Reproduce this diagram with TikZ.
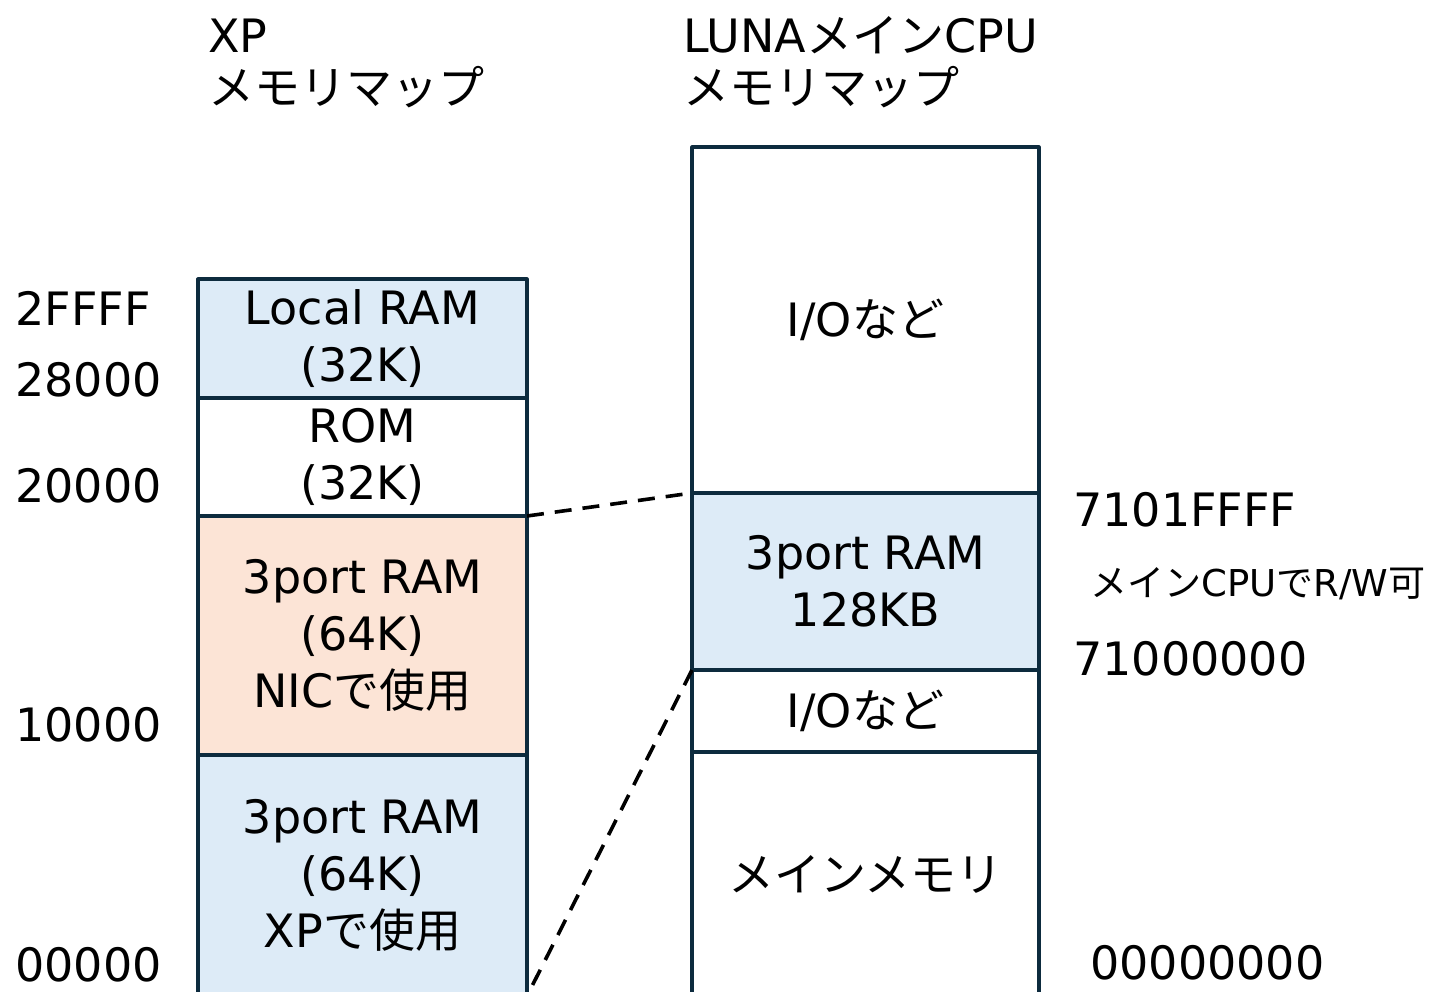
\documentclass[tikz,border=0pt]{standalone}
\usepackage{fontspec}
\setmainfont{DejaVu Sans}
\newfontfamily\jp{Noto Sans CJK JP}
\definecolor{memblue}{HTML}{DDEBF7}
\definecolor{mempeach}{HTML}{FCE4D6}
\definecolor{memline}{HTML}{0D2B3E}
\begin{document}
\begin{tikzpicture}[x=0.5pt, y=-0.5pt, font=\fontsize{23}{28.5}\selectfont, line join=round,
	blk/.style={draw=memline, line width=1.6pt, inner sep=0pt, outer sep=0pt, anchor=north west, align=center},
	xpblk/.style={blk, minimum width=164.5pt},
	lunablk/.style={blk, minimum width=173.5pt},
	addr/.style={inner sep=0pt, anchor=west},
	ttl/.style={inner sep=0pt, anchor=base west},
	dashline/.style={line width=1.8pt, dash pattern=on 8.5pt off 5.5pt}]
		\useasboundingbox (0,0) rectangle (1435,991);
		\clip (0,0) rectangle (1435,991);
		% titles
		\node[ttl] (xptitle) at (208,52) {XP};
		\node[ttl] (xpmap) at (208,104) {\jp メモリマップ};
		\node[ttl] (lunatitle) at (683,52) {LUNA{\jp メイン}CPU};
		\node[ttl] (lunamap) at (683,104) {\jp メモリマップ};
		% XP memory map
		\node[xpblk, fill=memblue, minimum height=59.5pt] (lram) at (198,279) {Local RAM\\(32K)};
		\node[xpblk, fill=white, minimum height=59pt] (rom) at (lram.south west) {ROM\\(32K)};
		\node[xpblk, fill=mempeach, minimum height=119.5pt] (nicram) at (rom.south west) {3port RAM\\(64K)\\NIC{\jp で使用}};
		\node[xpblk, fill=memblue, minimum height=120.5pt] (xpram) at (nicram.south west) {3port RAM\\(64K)\\XP{\jp で使用}};
		% LUNA main CPU memory map
		\node[lunablk, fill=white, minimum height=173pt] (io1) at (692,147) {I/O{\jp など}};
		\node[lunablk, fill=memblue, minimum height=88.5pt] (ram3) at (io1.south west) {3port RAM\\128KB};
		\node[lunablk, fill=white, minimum height=41pt] (io2) at (ram3.south west) {I/O{\jp など}};
		\node[lunablk, fill=white, minimum height=122pt] (mainmem) at (io2.south west) {\jp メインメモリ};
		% addresses
		\node[addr] (a2ffff) at (15,308) {2FFFF};
		\node[addr] (a28000) at (15,380) {28000};
		\node[addr] (a20000) at (15,486) {20000};
		\node[addr] (a10000) at (15,725) {10000};
		\node[addr] (a00000) at (15,965) {00000};
		\node[addr] (a7101ffff) at (1073,510) {7101FFFF};
		\node[addr, font=\fontsize{18.5}{22}\selectfont] (rwnote) at (1090,584) {{\jp メイン}CPU{\jp で}R/W{\jp 可}};
		\node[addr] (a71000000) at (1073,659) {71000000};
		\node[addr] (a00000000) at (1090,963) {00000000};
		% mapping
		\draw[dashline] (nicram.north east) -- (ram3.north west);
		\draw[dashline] (ram3.south west) -- (xpram.south east);
	\end{tikzpicture}
\end{document}
